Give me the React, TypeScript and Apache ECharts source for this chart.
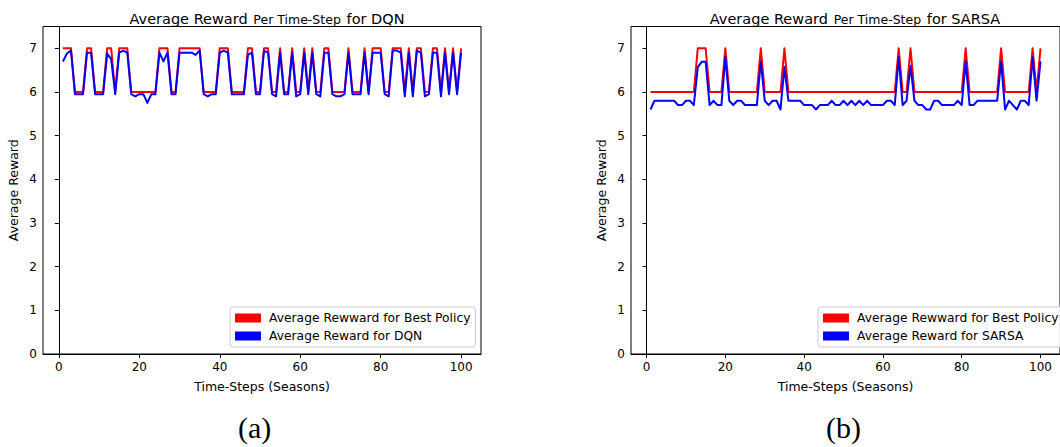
import React, { useEffect, useRef } from "react";
import * as echarts from "echarts";

// Time steps (seasons) 1..100
const timeSteps: number[] = [
  1, 2, 3, 4, 5, 6, 7, 8, 9, 10, 11, 12, 13, 14, 15, 16, 17, 18, 19, 20,
  21, 22, 23, 24, 25, 26, 27, 28, 29, 30, 31, 32, 33, 34, 35, 36, 37, 38, 39, 40,
  41, 42, 43, 44, 45, 46, 47, 48, 49, 50, 51, 52, 53, 54, 55, 56, 57, 58, 59, 60,
  61, 62, 63, 64, 65, 66, 67, 68, 69, 70, 71, 72, 73, 74, 75, 76, 77, 78, 79, 80,
  81, 82, 83, 84, 85, 86, 87, 88, 89, 90, 91, 92, 93, 94, 95, 96, 97, 98, 99, 100,
];

const dqnBestPolicy: number[] = [
  7, 7, 7, 6, 6, 6, 7, 7, 6, 6,
  6, 7, 7, 6, 7, 7, 7, 6, 6, 6,
  6, 6, 6, 6, 7, 7, 7, 6, 6, 7,
  7, 7, 7, 7, 7, 6, 6, 6, 6, 7,
  7, 7, 6, 6, 6, 6, 7, 7, 6, 6,
  7, 7, 6, 6, 7, 6, 6, 7, 6, 6,
  7, 6, 7, 6, 6, 7, 7, 6, 6, 6,
  6, 7, 6, 6, 6, 7, 6, 7, 7, 7,
  6, 6, 7, 7, 7, 6, 7, 6, 7, 7,
  6, 6, 7, 7, 6, 7, 6, 7, 6, 7,
];

const dqnReward: number[] = [
  6.7, 6.88, 6.95, 5.95, 5.95, 5.95, 6.9, 6.9, 5.95, 5.95,
  5.95, 6.88, 6.75, 5.95, 6.9, 6.95, 6.9, 5.95, 5.9, 5.95,
  5.95, 5.75, 5.95, 5.95, 6.9, 6.7, 6.9, 5.95, 5.95, 6.9,
  6.9, 6.9, 6.9, 6.85, 6.95, 5.95, 5.9, 5.95, 5.95, 6.9,
  6.95, 6.9, 5.95, 5.95, 5.95, 5.95, 6.85, 6.9, 5.95, 5.95,
  6.95, 6.9, 5.95, 5.9, 6.9, 5.95, 5.95, 6.9, 5.9, 5.95,
  6.9, 5.95, 6.9, 5.95, 5.9, 6.9, 6.9, 5.95, 5.9, 5.9,
  5.95, 6.9, 5.95, 5.95, 5.95, 6.9, 5.95, 6.9, 6.9, 6.9,
  5.95, 5.9, 6.95, 6.95, 6.9, 5.9, 6.9, 5.9, 6.95, 6.9,
  5.9, 5.95, 6.9, 6.9, 5.9, 6.9, 5.95, 6.9, 5.95, 6.9,
];

const sarsaBestPolicy: number[] = [
  6, 6, 6, 6, 6, 6, 6, 6, 6, 6,
  6, 6, 7, 7, 7, 6, 6, 6, 6, 7,
  6, 6, 6, 6, 6, 6, 6, 6, 7, 6,
  6, 6, 6, 6, 7, 6, 6, 6, 6, 6,
  6, 6, 6, 6, 6, 6, 6, 6, 6, 6,
  6, 6, 6, 6, 6, 6, 6, 6, 6, 6,
  6, 6, 6, 7, 6, 6, 7, 6, 6, 6,
  6, 6, 6, 6, 6, 6, 6, 6, 6, 6,
  7, 6, 6, 6, 6, 6, 6, 6, 6, 7,
  6, 6, 6, 6, 6, 6, 6, 7, 6, 7,
];

const sarsaReward: number[] = [
  5.6, 5.8, 5.8, 5.8, 5.8, 5.8, 5.8, 5.7, 5.7, 5.8,
  5.8, 5.7, 6.57, 6.69, 6.69, 5.7, 5.8, 5.7, 5.7, 6.8,
  5.8, 5.7, 5.8, 5.8, 5.7, 5.7, 5.7, 5.7, 6.7, 5.8,
  5.7, 5.8, 5.8, 5.6, 6.57, 5.8, 5.8, 5.8, 5.8, 5.7,
  5.7, 5.7, 5.6, 5.7, 5.7, 5.7, 5.8, 5.7, 5.7, 5.8,
  5.7, 5.8, 5.7, 5.8, 5.7, 5.8, 5.7, 5.7, 5.7, 5.7,
  5.8, 5.8, 5.7, 6.8, 5.7, 5.8, 6.6, 5.8, 5.7, 5.7,
  5.6, 5.6, 5.8, 5.8, 5.7, 5.7, 5.7, 5.7, 5.8, 5.7,
  6.7, 5.7, 5.7, 5.8, 5.8, 5.8, 5.8, 5.8, 5.8, 6.7,
  5.6, 5.8, 5.7, 5.6, 5.8, 5.8, 5.7, 6.8, 5.8, 6.7,
];

const xTicks: number[] = [0, 20, 40, 60, 80, 100];
const yTicks: number[] = [0, 1, 2, 3, 4, 5, 6, 7];

const bestName = "Average Rewward for Best Policy";
const dqnName = "Average Reward for DQN";
const sarsaName = "Average Reward for SARSA";

const FONT = "DejaVu Sans";

function pairs(vals: number[]): number[][] {
  return timeSteps.map((t, i) => [t, vals[i]]);
}

export default function App() {
  const ref = useRef<HTMLDivElement | null>(null);

  useEffect(() => {
    if (!ref.current) return;
    const chart = echarts.init(ref.current, undefined, { renderer: "svg" });

    const grids = [
      { left: 43, top: 26.5, width: 438, height: 327.5 },
      { left: 631, top: 26.5, width: 438, height: 327.5 },
    ];

    const xAxisOf = (gi: number) => ({
      type: "value",
      gridIndex: gi,
      min: -3.95,
      max: 104.95,
      name: "Time-Steps (Seasons)",
      nameLocation: "middle",
      nameGap: 26,
      nameTextStyle: { color: "#000", fontFamily: FONT, fontSize: 12.5 },
      axisLine: { show: true, onZero: false, lineStyle: { color: "#000", width: 1 } },
      axisTick: { show: true, length: 4, customValues: xTicks, lineStyle: { color: "#000" } },
      axisLabel: { customValues: xTicks, color: "#000", fontFamily: FONT, fontSize: 12, margin: 7 },
      splitLine: { show: false },
    });

    const yAxisOf = (gi: number) => ({
      type: "value",
      gridIndex: gi,
      min: 0,
      max: 7.5,
      name: "Average Reward",
      nameLocation: "middle",
      nameGap: 23,
      nameRotate: 90,
      nameTextStyle: { color: "#000", fontFamily: FONT, fontSize: 12.5 },
      axisLine: { show: true, lineStyle: { color: "#000", width: 1 } },
      axisTick: { show: true, length: 4, customValues: yTicks, lineStyle: { color: "#000" } },
      axisLabel: { customValues: yTicks, color: "#000", fontFamily: FONT, fontSize: 12, margin: 6 },
      splitLine: { show: false },
    });

    const titleOf = (cx: number, tail: string) => ({
      text: `{a|Average Reward} {b|Per Time-Step} {a|${tail}}`,
      left: cx,
      top: 5,
      textAlign: "center",
      textStyle: {
        fontWeight: "normal",
        rich: {
          a: { fontFamily: FONT, fontSize: 14.5, color: "#000", fontWeight: "normal" },
          b: { fontFamily: FONT, fontSize: 12.5, color: "#000", fontWeight: "normal" },
        },
      },
    });

    const legendOf = (left: number, names: string[]) => ({
      orient: "vertical",
      left,
      top: 307,
      data: names,
      selectedMode: false,
      icon: "rect",
      itemWidth: 26,
      itemHeight: 9,
      itemGap: 4,
      padding: [4, 5, 4, 5],
      backgroundColor: "rgba(255,255,255,0.85)",
      borderColor: "#cccccc",
      borderWidth: 1,
      borderRadius: 3,
      textStyle: { fontFamily: FONT, fontSize: 12.3, color: "#000", lineHeight: 14, padding: [0, 0, 0, 3] },
    });

    const lineSeries = (name: string, vals: number[], color: string, gi: number) => ({
      type: "line",
      name,
      xAxisIndex: gi,
      yAxisIndex: gi,
      data: pairs(vals),
      showSymbol: false,
      symbol: "none",
      color,
      lineStyle: { color, width: 2, join: "round", cap: "butt" },
      emphasis: { disabled: true },
      silent: true,
    });

    chart.setOption({
      animation: false,
      backgroundColor: "#ffffff",
      textStyle: { fontFamily: FONT },
      title: [titleOf(262, "for DQN"), titleOf(850, "for SARSA")],
      grid: grids.map((g) => ({ ...g, show: true, borderColor: "#000", borderWidth: 1, backgroundColor: "transparent" })),
      xAxis: [xAxisOf(0), xAxisOf(1)],
      yAxis: [yAxisOf(0), yAxisOf(1)],
      legend: [legendOf(230, [bestName, dqnName]), legendOf(818, [bestName, sarsaName])],
      series: [
        lineSeries(bestName, dqnBestPolicy, "#ff0000", 0),
        lineSeries(dqnName, dqnReward, "#0000ff", 0),
        lineSeries(bestName, sarsaBestPolicy, "#ff0000", 1),
        lineSeries(sarsaName, sarsaReward, "#0000ff", 1),
      ],
      graphic: [
        {
          type: "text",
          left: 238,
          top: 412,
          style: { text: "(a)", font: "30px 'Liberation Serif', serif", fill: "#000" },
        },
        {
          type: "text",
          left: 826,
          top: 412,
          style: { text: "(b)", font: "30px 'Liberation Serif', serif", fill: "#000" },
        },
      ],
    });

    return () => chart.dispose();
  }, []);

  return (
    <div
      ref={ref}
      style={{ position: "absolute", left: 0, top: 0, width: 1060, height: 447, background: "#fff" }}
    />
  );
}
